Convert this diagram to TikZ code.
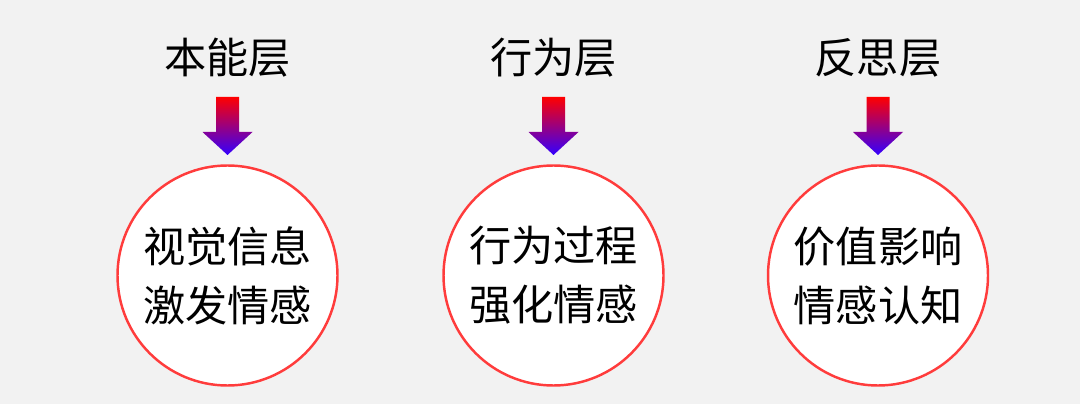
\documentclass[tikz,border=0pt]{standalone}
\usepackage{fontspec}
\usepackage{xcolor}
\usepackage{tikz}
\usetikzlibrary{positioning, calc}
\newfontfamily\cjk{Noto Sans CJK SC}

\definecolor{bggray}{RGB}{242,242,242}
\definecolor{ringred}{RGB}{255,60,60}
\definecolor{arrowtop}{RGB}{255,0,0}
\definecolor{arrowbot}{RGB}{51,0,255}

\begin{document}
\begin{tikzpicture}[
        title/.style={font=\cjk\fontsize{12}{14}\selectfont, inner sep=0pt},
        ring/.style={circle, draw=ringred, line width=0.7pt, fill=white, minimum size=2.2cm, inner sep=0pt,
            align=center, font=\cjk\fontsize{12}{16.8}\selectfont},
        grad/.style={top color=arrowtop, bottom color=arrowbot}
    ]
        \fill[bggray] (0,0) rectangle (10.8,4.04);
        \useasboundingbox (0,0) rectangle (10.8,4.04);
        % titles
        \node[title] (t1) at (2.275,3.465) {本能层};
        \node[title] (t2) at (5.535,3.465) {行为层};
        \node[title] (t3) at (8.78,3.465) {反思层};
        % circles
        \node[ring] (c1) at (2.275,1.285) {视觉信息\\激发情感};
        \node[ring] (c2) at (5.535,1.285) {行为过程\\强化情感};
        \node[ring] (c3) at (8.78,1.285) {价值影响\\情感认知};
        % arrows
        \foreach \i in {1,2,3} {
            \coordinate (a\i) at (t\i |- 0,3.07);
            \shade[grad] ([xshift=-1.15mm]a\i) -- ++(0.23,0) -- ++(0,-0.35) -- ++(0.135,0)
                -- ++(-0.25,-0.23) -- ++(-0.25,0.23) -- ++(0.135,0) -- cycle;
        }
    \end{tikzpicture}
\end{document}
